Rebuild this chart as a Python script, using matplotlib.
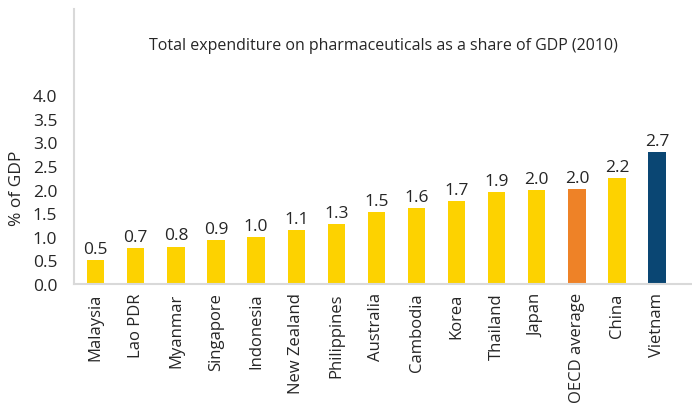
import matplotlib.pyplot as plt

countries = ['Malaysia', 'Lao PDR', 'Myanmar', 'Singapore', 'Indonesia', 'New Zealand',
             'Philippines', 'Australia', 'Cambodia', 'Korea', 'Thailand', 'Japan',
             'OECD average', 'China', 'Vietnam']
# bar heights, labels as printed
heights = [0.51, 0.76, 0.79, 0.93, 0.99, 1.14, 1.27, 1.52, 1.61, 1.76, 1.95, 1.99, 2.01, 2.24, 2.79]
labels = ['0.5', '0.7', '0.8', '0.9', '1.0', '1.1', '1.3', '1.5', '1.6', '1.7', '1.9', '2.0',
          '2.0', '2.2', '2.7']

yellow = '#FDD200'
orange = '#EE8227'
navy = '#0A4673'
colors = [yellow] * 12 + [orange, yellow, navy]

plt.rcParams['font.family'] = ['Open Sans', 'DejaVu Sans']
txt = '#262626'

fig = plt.figure(figsize=(6.92, 4.06), dpi=100)
ax = fig.add_axes([0.107, 0.298, 0.893, 0.677])

x = range(len(countries))
bars = ax.bar(x, heights, width=0.43, color=colors)
for b, lab in zip(bars, labels):
    ax.text(b.get_x() + b.get_width() / 2, b.get_height() + 0.07, lab,
            ha='center', va='bottom', fontsize=12.5, color=txt)

ax.set_xlim(-0.54, 14.87)
ax.set_ylim(0, 5.82)
ax.set_yticks([0, 0.5, 1, 1.5, 2, 2.5, 3, 3.5, 4])
ax.set_yticklabels(['%.1f' % v for v in ax.get_yticks()], fontsize=12.5, color=txt)
ax.set_xticks(list(x))
ax.set_xticklabels(countries, rotation=90, fontsize=12, color=txt)
ax.tick_params(length=0, pad=6)
ax.tick_params(axis='y', pad=12)

for s in ['top', 'right']:
    ax.spines[s].set_visible(False)
for s in ['left', 'bottom']:
    ax.spines[s].set_color('#D9D9D9')
    ax.spines[s].set_linewidth(1.5)

ax.set_ylabel('% of GDP', fontsize=12.5, color=txt)
ax.yaxis.set_label_coords(-0.08, 0.35)
ax.text(0.5, 0.87, 'Total expenditure on pharmaceuticals as a share of GDP (2010)',
        transform=ax.transAxes, ha='center', va='center', fontsize=11.5, color=txt)

fig.savefig('out.png', dpi=100)
